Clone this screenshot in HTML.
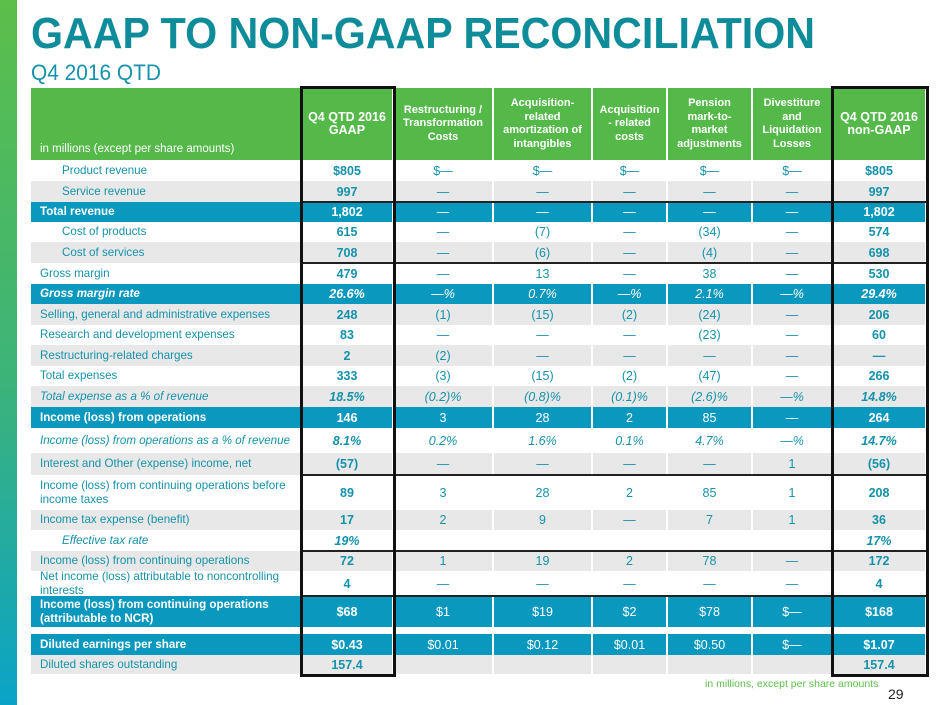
<!DOCTYPE html>
<html><head><meta charset="utf-8"><style>
*{margin:0;padding:0;box-sizing:border-box}
body{width:940px;height:705px;background:#fff;position:relative;overflow:hidden;font-family:"Liberation Sans",Arial,sans-serif}
#bar{position:absolute;left:0;top:0;width:17px;height:705px;background:linear-gradient(#5cbf4a,#3bb37a 55%,#0aa3c8)}
.cell{position:absolute;display:flex;align-items:center;justify-content:center;text-align:center;font-size:12.5px;color:#1592ab;border-right:2px solid #fff}
.lbl{justify-content:flex-start;text-align:left;padding-left:9px;line-height:14px}
.hd{background:#55b94a;color:#fff;font-weight:bold;font-size:11px;line-height:13.5px}
.box{position:absolute;border:3px solid #111;pointer-events:none}
.hl{position:absolute;height:2px;background:#222}
</style></head><body>
<div id="bar"></div>
<svg style="position:absolute;left:0;top:0" width="940" height="90">
<text x="31" y="48" font-family="Liberation Sans, Arial, sans-serif" font-weight="bold" font-size="44" fill="#0f8c9a" textLength="784" lengthAdjust="spacingAndGlyphs">GAAP TO NON-GAAP RECONCILIATION</text>
<text x="31" y="80" font-family="Liberation Sans, Arial, sans-serif" font-size="22" fill="#1592ab" textLength="130" lengthAdjust="spacingAndGlyphs">Q4 2016 QTD</text>
</svg>
<div id="tbl"></div>
<div style="position:absolute;left:705px;top:678px;font-size:10.5px;color:#5cbf4a">in millions, except per share amounts</div>
<div style="position:absolute;left:888px;top:686px;font-size:14px;color:#222">29</div>
<script>
const headers=["in millions (except per share amounts)","Q4 QTD 2016<br>GAAP","Restructuring /<br>Transformation<br>Costs","Acquisition-<br>related<br>amortization of<br>intangibles","Acquisition<br>- related<br>costs","Pension<br>mark-to-<br>market<br>adjustments","Divestiture<br>and<br>Liquidation<br>Losses","Q4 QTD 2016<br>non-GAAP"];
const labels=["Product revenue","Service revenue","Total revenue","Cost of products","Cost of services","Gross margin","Gross margin rate","Selling, general and administrative expenses","Research and development expenses","Restructuring-related charges","Total expenses","Total expense as a % of revenue","Income (loss) from operations","Income (loss) from operations as a % of revenue","Interest and Other (expense) income, net","Income (loss) from continuing operations before income taxes","Income tax expense (benefit)","Effective tax rate","Income (loss) from continuing operations","Net income (loss) attributable to noncontrolling interests","Income (loss) from continuing operations (attributable to NCR)","Diluted earnings per share","Diluted shares outstanding"];
const values=[
["$805","$—","$—","$—","$—","$—","$805"],
["997","—","—","—","—","—","997"],
["1,802","—","—","—","—","—","1,802"],
["615","—","(7)","—","(34)","—","574"],
["708","—","(6)","—","(4)","—","698"],
["479","—","13","—","38","—","530"],
["26.6%","—%","0.7%","—%","2.1%","—%","29.4%"],
["248","(1)","(15)","(2)","(24)","—","206"],
["83","—","—","—","(23)","—","60"],
["2","(2)","—","—","—","—","—"],
["333","(3)","(15)","(2)","(47)","—","266"],
["18.5%","(0.2)%","(0.8)%","(0.1)%","(2.6)%","—%","14.8%"],
["146","3","28","2","85","—","264"],
["8.1%","0.2%","1.6%","0.1%","4.7%","—%","14.7%"],
["(57)","—","—","—","—","1","(56)"],
["89","3","28","2","85","1","208"],
["17","2","9","—","7","1","36"],
["19%","","","","","","17%"],
["72","1","19","2","78","—","172"],
["4","—","—","—","—","—","4"],
["$68","$1","$19","$2","$78","$—","$168"],
["$0.43","$0.01","$0.12","$0.01","$0.50","$—","$1.07"],
["157.4","","","","","","157.4"]];
const fills="WGBWGWBGWGWGBWGWGWGWBBG";
const italic=[6,11,13,17];
const indent=[0,1,3,4,17];
const rowH=[21,21,20,20,21,21,20,21,20,21,20,21,21,25,22,35,20,21,20,25,31,0,21,19];
const colW=[271,92,100,99,75,85,80,94];
const t=document.getElementById('tbl');
let xs=[];let xx=31;colW.forEach(w=>{xs.push(xx);xx+=w;});
headers.forEach((h,c)=>{const d=document.createElement('div');d.className='cell hd'+(c==0?' lbl':'');


d.style.cssText=`left:${xs[c]}px;top:88px;width:${colW[c]}px;height:72px;`+(c==0?'align-items:flex-end;padding-bottom:4px;font-weight:normal;font-size:11.5px;':'')+((c==1||c==7)?'font-size:12.5px;':'');
d.innerHTML=h;t.appendChild(d);});
let y=160;
labels.forEach((l,r)=>{
 if(r==21)y+=7;
 const h=rowH[r>=21?r+1:r];const f=fills[r];const blue=f=='B';
 const bg=blue?'#0a98be':(f=='G'?'#e8e8e8':'#fff');
 for(let c=0;c<8;c++){const d=document.createElement('div');d.className='cell'+(c==0?' lbl':'');
  
  
  let st=`left:${xs[c]}px;top:${y}px;width:${colW[c]}px;height:${h}px;background:${bg};`;
  if(blue)st+='color:#fff;';
  if(blue&&c==0)st+='font-weight:bold;';
  if(c==0&&indent.includes(r))st+='padding-left:31px;';
  if(italic.includes(r))st+='font-style:italic;';
  if(c==1||c==7)st+='font-weight:bold;';
  if(c==0)st+='font-size:11.6px;';
  d.style.cssText=st;d.textContent=c==0?l:values[r][c-1];t.appendChild(d);}
 y+=h;});
[202,263,475,551,596].forEach(yy=>{const d=document.createElement('div');d.className='hl';


d.style.cssText=`left:300px;top:${yy-1}px;width:629px;`;t.appendChild(d);});
[[300,96],[831,98]].forEach(b=>{const d=document.createElement('div');d.className='box';


d.style.cssText=`left:${b[0]}px;top:86px;width:${b[1]}px;height:591px;`;t.appendChild(d);});
</script>
</body></html>
